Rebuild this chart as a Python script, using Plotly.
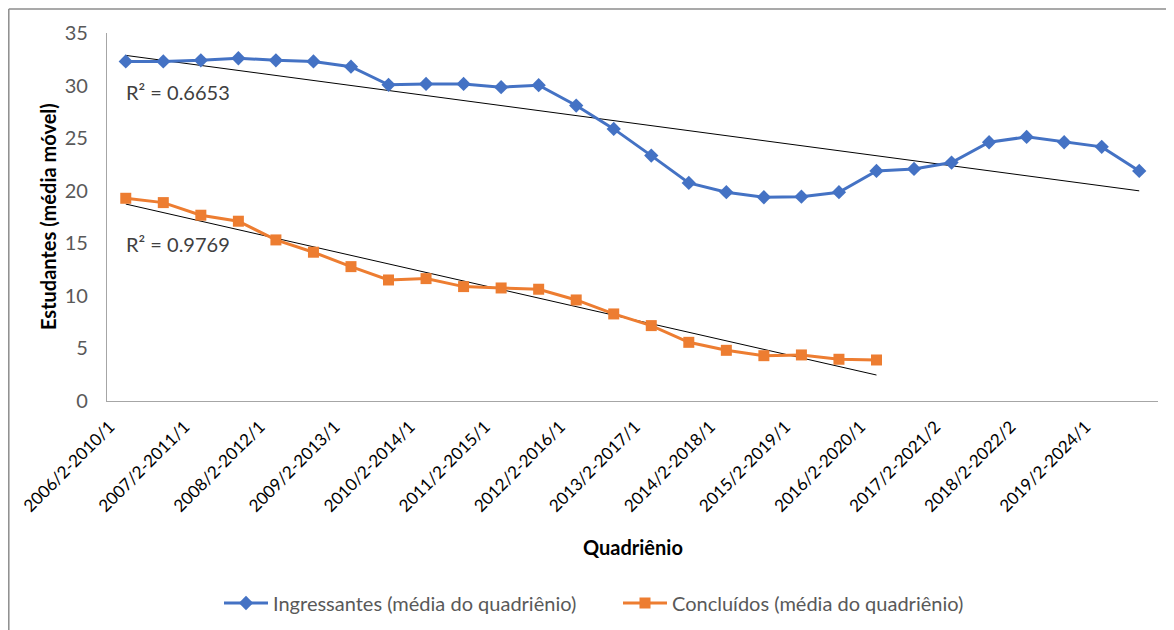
import numpy as np
import plotly.graph_objects as go

categories = [
    "2006/2-2010/1", "2007/1-2010/2", "2007/2-2011/1", "2008/1-2011/2",
    "2008/2-2012/1", "2009/1-2012/2", "2009/2-2013/1", "2010/1-2013/2",
    "2010/2-2014/1", "2011/1-2014/2", "2011/2-2015/1", "2012/1-2015/2",
    "2012/2-2016/1", "2013/1-2016/2", "2013/2-2017/1", "2014/1-2017/2",
    "2014/2-2018/1", "2015/1-2018/2", "2015/2-2019/1", "2016/1-2019/2",
    "2016/2-2020/1", "2017/1-2021/1", "2017/2-2021/2", "2018/1-2022/1",
    "2018/2-2022/2", "2019/1-2023/2", "2019/2-2024/1", "2020/1-2024/2",
]

ingressantes = [32.3, 32.3, 32.4, 32.6, 32.4, 32.3, 31.8, 30.07,
                30.16, 30.16, 29.85, 30.04, 28.1, 25.88, 23.34, 20.74,
                19.86, 19.38, 19.43, 19.86, 21.88, 22.07, 22.68, 24.61,
                25.12, 24.61, 24.17, 21.88]

concluidos = [19.28, 18.87, 17.67, 17.1, 15.32, 14.15, 12.78, 11.51,
              11.64, 10.88, 10.75, 10.63, 9.61, 8.28, 7.17, 5.58,
              4.82, 4.31, 4.38, 3.97, 3.9]

r2_labels = ["R² = 0.6653", "R² = 0.9769"]

tick_labels = categories[::2]

BLUE = "#4472C4"
ORANGE = "#ED7D31"
FONT = "Lato"
GRAY = "#595959"

# page body has an 8px margin; plot area in page coords: x 107..1158, y 33..401
W, H = 1166, 622
L, T = 99, 25
PW, PH = 1051, 368


def trend(values):
    x = np.arange(1, len(values) + 1)
    m, b = np.polyfit(x, values, 1)
    return [categories[0], categories[len(values) - 1]], [m * 1 + b, m * len(values) + b]


fig = go.Figure()

tx, ty = trend(ingressantes)
fig.add_trace(go.Scatter(x=tx, y=ty, mode="lines", line=dict(color="black", width=1),
                         showlegend=False, hoverinfo="skip"))
tx2, ty2 = trend(concluidos)
fig.add_trace(go.Scatter(x=tx2, y=ty2, mode="lines", line=dict(color="black", width=1),
                         showlegend=False, hoverinfo="skip"))

fig.add_trace(go.Scatter(
    x=categories, y=ingressantes, mode="lines+markers",
    name="Ingressantes (média do quadriênio)",
    line=dict(color=BLUE, width=3),
    marker=dict(symbol="diamond", size=11, color=BLUE),
))
fig.add_trace(go.Scatter(
    x=categories[:len(concluidos)], y=concluidos, mode="lines+markers",
    name="Concluídos (média do quadriênio)",
    line=dict(color=ORANGE, width=3),
    marker=dict(symbol="square", size=11, color=ORANGE),
))

fig.add_annotation(x=categories[0], y=29.4, text=r2_labels[0], showarrow=False,
                   xanchor="left", xshift=-2, font=dict(family=FONT, size=20, color="#404040"))
fig.add_annotation(x=categories[0], y=14.9, text=r2_labels[1], showarrow=False,
                   xanchor="left", xshift=-2, font=dict(family=FONT, size=20, color="#404040"))

# axis titles
fig.add_annotation(xref="paper", yref="paper", x=(633 - 107) / PW, y=(401 - 547) / PH,
                   text="<b>Quadriênio</b>", showarrow=False, xanchor="center", yanchor="middle",
                   font=dict(family=FONT, size=20, color="black"))
fig.add_annotation(xref="paper", yref="paper", x=(48 - 107) / PW, y=(401 - 217) / PH,
                   text="<b>Estudantes (média móvel)</b>", showarrow=False, textangle=-90,
                   xanchor="center", yanchor="middle",
                   font=dict(family=FONT, size=20, color="black"))

# outer chart border (left and top edges)
bx = (0.8 - L) / PW
by = (PH + T - 1) / PH
fig.add_shape(type="line", xref="paper", yref="paper", x0=bx, x1=1.1, y0=by, y1=by,
              line=dict(color="#8c8c8c", width=1.5))
fig.add_shape(type="line", xref="paper", yref="paper", x0=bx, x1=bx, y0=by, y1=-0.7,
              line=dict(color="#8c8c8c", width=1.5))

fig.update_layout(
    width=W, height=H,
    margin=dict(l=L, r=W - L - PW, t=T, b=H - T - PH, autoexpand=False),
    plot_bgcolor="white", paper_bgcolor="white",
    font=dict(family=FONT, color=GRAY),
    showlegend=True,
    legend=dict(orientation="h", x=(219 - 107) / PW, xanchor="left", y=(401 - 603) / PH,
                yanchor="middle",
                font=dict(family=FONT, size=20, color=GRAY), traceorder="normal",
                itemwidth=44, entrywidth=340, entrywidthmode="pixels"),
    xaxis=dict(
        type="category", categoryorder="array", categoryarray=categories,
        tickvals=tick_labels, ticktext=tick_labels, tickangle=-45,
        tickfont=dict(family=FONT, size=17, color="black"), automargin=False,
        ticklabelshift=-16, ticklabelstandoff=8,
        showline=True, linecolor="#a6a6a6", linewidth=1.2, showgrid=False,
        ticks="", range=[-0.5, len(categories) - 0.5],
    ),
    yaxis=dict(
        range=[0, 35], dtick=5, showline=True, linecolor="#a6a6a6", linewidth=1.2,
        showgrid=False, zeroline=False, ticks="", automargin=False,
        tickfont=dict(family=FONT, size=20, color=GRAY), ticklabelstandoff=14,
    ),
)

fig.write_html("out.html")
